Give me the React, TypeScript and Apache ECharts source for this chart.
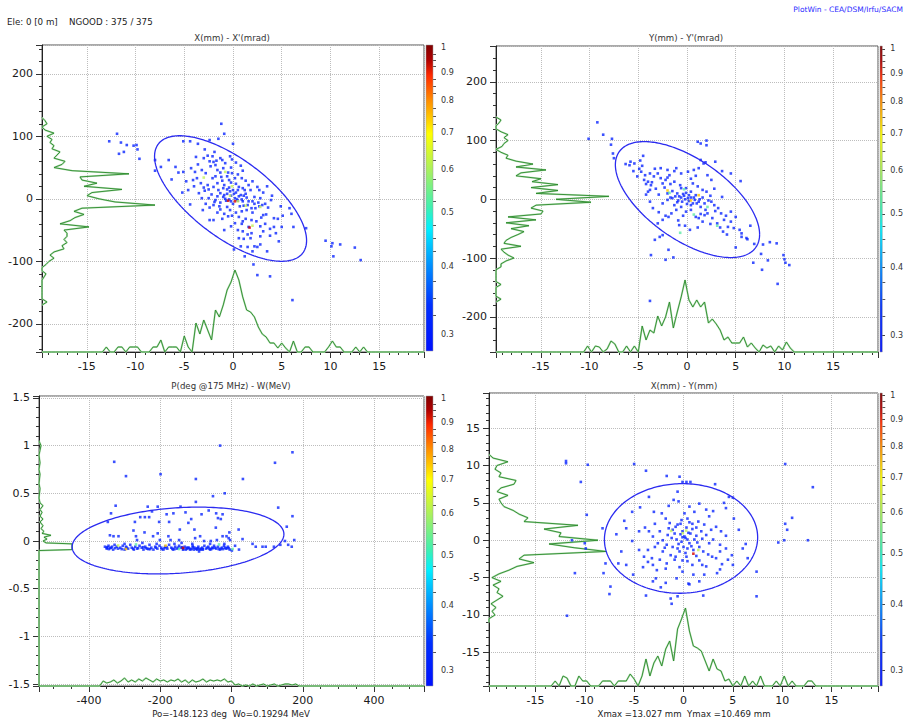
import React, { useEffect, useRef } from "react";
import * as echarts from "echarts";

const FONT = "'DejaVu Sans', Verdana, sans-serif";

// ---------------- Panel 1 : X(mm) - X'(mrad) ----------------
const p1Points: number[][] = [
  [-1.2,120],[-0.9,104],[-11.9,104],[-12.7,92],[-11.5,90],[-10.9,86],[-10.2,85],[-9.9,86],[-9.8,79],[-11.2,75],[-11.7,72],[-9.6,64],
  [9.5,-67],[10.2,-71],[10.1,-76],[10.3,-92],[11.0,-73],[12.5,-78],[13.1,-98],[6.1,-162],[2.5,-122],[3.8,-124],[2.1,-105],
  [-6.6,62],[-8.0,62],[-8.0,45],[-7.4,51],[-5.1,92],[-4.4,92],[-3.6,88],[-2.4,94],[-1.5,96],[0.0,88],
  [-1.9,75],[-2.9,79],[-2.1,68],[-1.3,65],[-1.1,62],[-1.7,61],[-0.3,68],[-2.6,69],[-3.0,65],[-3.8,67],[-2.0,59],[-0.8,57],[0.3,58],
  [-5.9,51],[-5.6,42],[-5.1,43],[-3.9,43],[-3.2,46],[-2.8,41],[-2.3,52],[-1.8,54],[-1.6,46],[-1.3,42],[-1.0,49],[-0.5,42],[-0.1,41],[0.5,39],[0.8,53],[0.9,33],[1.3,29],
  [-1.8,36],[-2.1,33],[-3.7,33],[-4.1,30],[-4.8,28],[-6.3,31],
  [-1.6,25],[-1.0,17],[-0.6,15],[-0.4,18],[0.0,14],[0.5,14],[1.0,17],[1.2,14],[1.8,14],[2.5,19],[2.7,14],[-2.5,15],[-2.0,19],[-1.5,14],[-2.9,13],[-3.3,25],[-3.5,9],[-1.3,9],[-0.9,6],[-0.2,5],[0.1,8],[0.6,4],[1.1,5],[2.2,3],[2.8,1],[3.1,10],[1.6,22],[-1.1,29],
  [-3.2,1],[-2.5,1],[-1.8,-2],[-1.3,-6],[-0.7,-3],[-0.2,-4],[0.5,-3],[1.0,-4],[1.5,-10],[2.2,-8],[2.7,-12],[3.0,-10],[3.9,-2],[-4.4,-9],[-2.8,-8],[-2.0,-10],[-1.4,-12],[-0.6,-13],[0.0,-8],[0.7,-12],[1.1,-11],[1.9,-15],[2.3,-15],[4.9,-12],[5.8,-15],[-1.3,-17],[-3.1,-18],
  [-2.4,-34],[-2.0,-34],[-1.1,-32],[-0.5,-28],[-0.1,-27],[0.6,-29],[1.3,-32],[1.9,-34],[2.4,-36],[3.1,-26],[3.4,-25],[4.2,-31],[4.6,-32],[5.1,-27],[6.0,-24],
  [-0.2,-44],[0.2,-39],[0.9,-40],[1.6,-45],[2.8,-44],[4.2,-45],[5.0,-45],[6.2,-45],[7.5,-47],
  [0.6,-63],[1.1,-64],[1.5,-57],[1.8,-63],[2.8,-60],[3.1,-52],[3.8,-59],[4.7,-68],[0.8,-76],[1.5,-77],[2.2,-76],[2.5,-77],[2.8,-73],[0.1,-81],[1.2,-92],[2.0,-84],[3.5,-84],
  [-0.4,30],[0.3,24],[-0.8,0],[0.4,-1],[1.4,2],[-0.3,-18],[0.9,-20],[2.0,-22],[-1.6,-22],[3.3,-40],[-0.9,-50],[1.0,-52],
  [-0.6,8],[-0.3,12],[0.3,10],[0.8,6],[-1.0,3],[-0.4,-1],[0.2,1],[0.9,-1],[1.6,-4],[-1.6,4],[-2.2,7],[-0.9,22],[-0.2,26],[0.6,19],[1.3,8],[-2.6,22],[-3.0,18],[-1.2,35],[0.2,33],[-0.6,36],
  [2.0,-4],[2.6,-6],[3.3,-8],[3.6,-14],[1.4,-18],[0.3,-22],[-0.9,-24],[1.0,-36],[2.9,-30],[-3.6,55],[-4.3,49],[-2.4,60],[-0.2,50],[-1.9,-5],[-2.4,-14],[0.5,-50],[3.8,-48],[4.4,-55],[1.9,-55],
  [-4.0,20],[-4.6,14],[-5.2,10],[-0.1,63],[1.0,45],[2.0,28],[3.5,20],[4.0,5]
];
const p1Dense: number[][] = [
  [-0.8,43,0.65],[-3.0,34,0.65],[-0.1,20,0.65],[0.5,-4,0.65],[1.3,-11,0.65],[2.8,-13,0.65],[2.0,-43,0.65],[-0.3,5,0.65],
  [-0.5,-3,0.95],[0.2,-4,0.95],[1.7,-46,0.95]
];
const p1Ellipse = { cx: -0.25, cy: 0.5, halfX: 7.8, halfY: 100.4, corr: -0.67 };
const p1HistXStart = -19.4, p1HistXStep = 0.4;
const p1HistX = [
  0,0,0,0,0,0,0,0,0,0,0,0,0,0,0,0,
  5,0,0,5,5,0,5,5,5,0,0,0,5,5,12,0,5,5,5,0,16,5,0,29,18,32,22,12,42,35,47,62,70,82,72,55,42,40,35,25,18,15,9,9,4,9,4,0,11,0,0,5,5,0,0,0,0,5,11,5,5,0,0,0,5,0,5,
  0,0,0,0,0,0,0,0,0,0,0,0,0,0,0
];
const p1HistYStart = -170, p1HistYStep = 5;
const p1HistY = [0,5,0,0,0,0,0,0,0,2,4,0,0,4,7,12,8,12,22,20,25,22,25,25,22,47,18,28,33,42,32,40,113,73,57,45,50,80,42,55,40,38,87,30,12,20,23,12,15,18,10,12,8,10,5,12,3,0,5,3,0];

// ---------------- Panel 2 : Y(mm) - Y'(mrad) ----------------
const p2Points: number[][] = [
  [-9.2,131],[-8.6,110],[-10.1,103],[-7.7,103],[-7.8,93],[-7.6,78],[-7.5,70],[1.1,98],[1.4,95],[2.0,100],[2.0,92],
  [9.9,-95],[10.0,-102],[10.1,-108],[10.5,-112],[9.3,-144],[-3.8,-173],[8.5,-73],[9.2,-75],[7.6,-93],[6.8,-108],[7.7,-120],[8.3,-104],[7.8,-77],[6.9,-76],[5.0,-82],[6.2,-68],[5.6,-64],
  [-2.2,-103],[-1.4,-99],[-1.9,-86],[-3.7,-95],[-3.3,-69],[-2.8,-64],[-2.5,-61],
  [5.5,31],[4.5,44],[3.6,48],[2.9,64],[1.7,61],[1.4,67],[1.9,63],
  [-6.3,60],[-5.9,58],[-5.4,61],[-4.8,66],[-4.5,74],[-4.6,57],
  [-4.7,47],[-4.3,41],[-4.0,30],[-3.7,24],[-4.2,26],[-3.4,39],[-3.0,44],[-2.7,36],[-2.5,27],[-2.2,33],[-1.8,41],[-1.7,26],[-1.3,30],[-1.5,14],[-1.0,10],[-0.8,5],[-0.6,3],[-0.3,6],[-0.2,0],[0.1,2],[0.4,3],[0.8,-1],[1.0,-7],[1.3,0],[1.6,3],[2.0,13],[2.4,6],[2.5,-4],[2.8,-10],[3.2,-15],
  [-0.6,-13],[-1.1,-18],[-1.6,-24],[-2.2,-28],[-2.5,-35],[-3.0,-41],[-3.5,-15],[-3.8,-4],[-2.5,-7],[-2.0,-1],[-1.3,-10],[-0.1,-21],[0.4,-18],[0.9,-30],[1.4,-25],[2.1,-24],[2.6,-32],[3.1,-41],[3.5,-24],[3.8,-35],[4.5,-21],[4.5,-38],[4.8,-49],[5.4,-52],[5.6,-58],[6.1,-66],[4.2,-47],[3.7,-55],[-0.8,-44],[-0.2,-45],[1.1,-48],[1.6,-38],
  [-4.4,33],[-3.8,44],[-5.1,39],[-4.0,13],[-2.0,10],[0.6,27],[1.1,22],[1.6,16],[0.7,50],[1.2,53],[0.1,47],[-0.6,44],[2.1,41],[2.5,33],[-1.1,53],[-2.0,50],[-2.7,53],[-5.8,64],[-0.1,19],[0.4,13],[-0.6,19],[0.9,7],[1.4,-13],[1.9,-18],[0.0,-8],[0.4,-10],[-0.5,-4],[-1.7,3],
  [-3.2,18],[-2.9,8],[0.2,-3],[-0.4,9],[1.2,-4],[0.7,3],[-1.0,-5],[2.2,-2],
  [-1.2,5],[-0.9,-2],[0.2,7],[0.6,-7],[-0.1,11],[-1.5,2],[1.8,-7],[2.9,-20],[-0.7,24],[-2.3,20],[-3.6,29],[-4.9,52],[-3.3,52],[-2.0,37],[0.4,35],[1.2,-32],[2.4,-42],[3.4,-48],[4.0,-28],
  [-1.9,-30],[-0.9,-36],[0.3,-52],[-2.9,-22],[-4.2,8],[-3.8,16],[-0.4,-28],[1.8,-27],[5.0,-30],[4.1,-60],[6.5,-45],[2.8,18],[3.6,4],[-5.5,48],[0.9,40],[-1.3,48]
];
const p2Dense: number[][] = [
  [-2.0,15,0.8],[0.4,-2,0.8],[1.2,7,0.8],
  [-1.8,11,0.55],[-0.3,17,0.55],[0.7,-26,0.55],[3.1,-45,0.55],[-0.7,-57,0.55],[2.1,-13,0.55]
];
const p2Ellipse = { cx: 0.05, cy: -0.5, halfX: 7.4, halfY: 98.7, corr: -0.6 };
const p2HistXStart = -19.4, p2HistXStep = 0.4;
const p2HistX = [
  0,0,0,0,0,0,0,0,0,0,0,0,0,0,0,0,0,0,0,0,0,0,0,
  6,0,6,5,0,3,11,8,0,0,6,0,6,0,26,12,22,19,36,26,35,50,24,40,55,72,52,45,52,45,50,29,33,28,22,12,15,9,9,9,15,5,9,4,0,7,4,6,0,6,2,10,4,
  0,0,0,0,0,0,0,0,0,0,0,0,0,0,0,0,0,0,0,0,0,0
];
const p2HistYStart = -175, p2HistYStep = 5;
const p2HistY = [0,5,0,0,0,0,5,0,0,0,0,0,5,5,10,18,12,8,5,25,8,10,15,22,28,15,33,10,40,12,45,47,35,40,95,60,113,40,62,35,62,36,45,20,25,50,20,37,20,10,12,5,0,6,8,12,8,12,5,0,0,3,5,0];

// ---------------- Panel 3 : P(deg @175 MHz) - W(MeV) ----------------
const p3Points: number[][] = [
  [-329,0.83],[-296,0.68],[-199,0.7],[-100,0.65],[-32,1.0],[32,0.65],[122,0.82],[171,0.93],[-52,0.47],[-19,0.5],[-325,0.37],[-338,0.29],[-235,0.36],[-207,0.36],[-143,0.36],[-100,0.41],[131,0.35],[171,0.26],[176,0.01],[155,0.15],
  [-347,0.2],[-271,0.2],[-256,0.25],[-243,0.25],[-231,0.25],[-223,0.31],[-182,0.28],[-163,0.29],[-129,0.3],[-113,0.23],[-121,0.19],[-84,0.28],[-64,0.32],[-43,0.29],[-38,0.24],[-30,0.23],[-25,0.28],[-203,0.2],[-175,0.2],[-275,0.11],[-244,0.09],[-207,0.08],[-145,0.12],[-104,0.12],[-44,0.14],[20,0.12],[-6,0.09],
  [-341,0.06],[-331,0.05],[-317,0.05],[-268,0.05],[-265,0.01],[-220,0.05],[-201,0.01],[-177,0.05],[-171,0.01],[-147,0.01],[-102,0.03],[-88,0.05],[-77,0],[-58,0],[-41,0.01],[-25,0.05],[-14,0.05],[-8,0.03],[-4,0.01],[31,0.02],[59,-0.03],[68,-0.06],[87,-0.06],[96,-0.06],[119,-0.06],[137,-0.04],[150,0],[159,-0.04],[169,-0.06],[10,-0.05],[21,-0.09],[1,-0.1],[-81,-0.09],[-91,-0.11],
  [-355,-0.06],[-350,-0.08],[-345,-0.05],[-338,-0.07],[-332,-0.09],[-328,-0.04],[-322,-0.06],[-318,-0.08],[-312,-0.07],[-305,-0.05],[-300,-0.09],[-296,-0.06],[-290,-0.08],[-284,-0.04],[-280,-0.07],[-274,-0.09],[-270,-0.06],[-265,-0.08],[-258,-0.05],[-252,-0.07],[-247,-0.09],[-242,-0.06],[-236,-0.08],[-230,-0.04],[-225,-0.07],[-219,-0.09],[-214,-0.06],[-208,-0.08],[-202,-0.05],[-197,-0.07],[-191,-0.09],[-186,-0.06],[-180,-0.08],[-175,-0.04],[-169,-0.07],[-164,-0.09],[-158,-0.06],[-153,-0.08],[-147,-0.05],[-142,-0.07],[-136,-0.09],[-131,-0.06],[-126,-0.08],[-120,-0.07],[-115,-0.09],[-109,-0.05],[-104,-0.07],[-98,-0.08],[-93,-0.06],[-87,-0.09],[-82,-0.07],[-76,-0.05],[-71,-0.08],[-65,-0.06],[-60,-0.09],[-54,-0.07],[-49,-0.05],[-43,-0.08],[-38,-0.06],[-32,-0.09],[-27,-0.07],[-21,-0.05],[-16,-0.08],[-10,-0.06],[-5,-0.09],
  [-135,-0.085],[-128,-0.09],[-122,-0.075],[-117,-0.085],[-112,-0.08],[-106,-0.09],[-100,-0.085],[-95,-0.075],[-90,-0.085],[-85,-0.08],[-348,-0.065],[-340,-0.075],[-335,-0.06],
  [-62,-0.08],[-57,-0.085],[-52,-0.075],[-30,-0.08],[-24,-0.085],[-12,-0.075],[-240,-0.075],[-233,-0.085],[-188,-0.075],[-160,-0.085],
  [-350,-0.07],[-344,-0.085],[-326,-0.075],[-308,-0.085],[-294,-0.07],[-276,-0.08],[-262,-0.075],[-248,-0.065],[-228,-0.085],[-212,-0.07],[-196,-0.085],[-182,-0.065],[-166,-0.08],[-150,-0.07],[-138,-0.065],[-124,-0.07],[-108,-0.065],[-96,-0.09],[-80,-0.085],[-68,-0.07],[-46,-0.07],[-36,-0.085],[-18,-0.07],[-8,-0.075],
  [-210,-0.03],[-160,-0.03],[-110,-0.03],[-60,-0.03],[-20,-0.03],[-300,-0.03],[-250,-0.02],[-140,-0.02]
];
const p3Dense: number[][] = [
  [-147,-0.084,0.55],[-35,-0.036,0.55],[3,-0.084,0.55],[-268,-0.036,0.55],[-296,-0.084,0.8],[-185,-0.049,0.8],[-318,-0.047,0.6],[-136,-0.073,0.95]
];
const p3Ellipse = { cx: -150, cy: 0.005, halfX: 297, halfY: 0.35, corr: 0.19 };
const p3HistXStart = -370, p3HistXStep = 10;
const p3HistX = [0,5,3,4,6,3,5,8,4,6,4,7,5,8,6,4,7,5,6,4,6,5,7,4,6,3,6,4,5,7,4,6,5,6,5,7,4,5,1,2,0,1,0,2,0,1,2,0,1,2,0,1,2,2,1,2,0];
const p3HistYPairs: number[][] = [
  [-1.52,0],[-0.1,0],[-0.09,33],[-0.03,33],[-0.02,7],[0,4],[0.02,8],[0.04,5],[0.06,12],[0.08,3],[0.1,5],[0.13,2],[0.16,4],[0.2,1],[0.23,4],[0.26,1],[0.3,3],[0.33,1],[0.37,4],[0.4,1],[0.45,0],[0.55,1],[0.6,0],[0.7,1],[0.75,0],[0.82,1],[0.9,0],[0.95,1],[1.0,2],[1.05,0]
];

// ---------------- Panel 4 : X(mm) - Y(mm) ----------------
const p4Points: number[][] = [
  [-11.9,10.6],[-11.9,10.3],[-9.7,10.1],[-5.0,10.2],[-3.8,9.3],[-1.7,8.6],[-0.4,8.5],[-0.1,7.8],[0.3,7.8],[0.7,7.8],[3.2,7.5],[-10.4,7.8],[10.3,10.2],[13.1,7.1],[-9.8,3.4],[11.0,3.0],[10.3,2.2],[10.5,1.4],[10.2,0.0],[9.6,-0.3],[12.6,0.0],[7.4,-4.2],[7.4,-7.5],[-11.0,-4.4],[-11.8,-10.1],[-7.4,-6.2],[-7.5,-7.2],[-8.1,-4.4],[-7.9,-3.1],[-3.8,-7.4],[-1.3,-7.8],[-1.2,-8.5],[-0.6,-7.5],[2.0,-7.4],[1.6,-5.5],[-2.3,-6.3],[0.5,-5.8],[0.6,-5.9],
  [5.0,5.7],[4.6,5.8],[4.1,5.0],[4.3,4.3],[5.1,2.9],[6.0,-1.1],[6.3,-0.5],[-9.9,-1.1],[-10.0,-0.4],[-11.3,0.0],[-8.2,1.6],[-5.2,-0.1],[-5.1,-4.6],[-6.6,-3.1],[-5.8,-3.3],[-3.5,5.8],[-4.4,4.4],[-5.2,3.8],[-6.0,2.6],[-5.8,1.6],[-0.6,6.5],[-0.5,5.2],[-1.5,4.6],[-2.2,3.6],[-2.9,2.2],[-3.9,1.7],[-4.5,-1.3],[-3.6,-1.3],[-3.2,-2.4],[-3.1,-3.3],[-2.7,-4.0],[-1.8,-3.8],[-2.8,-5.1],
  [-0.9,-2.6],[-0.4,-3.6],[-0.1,-2.7],[0.3,-2.2],[0.9,-3.3],[1.6,-2.7],[2.3,-3.5],[2.9,-2.2],[3.7,-1.5],[3.9,-3.2],[4.5,-2.6],[4.9,-2.0],[4.3,0.6],[3.8,1.2],[3.0,0.1],[2.3,0.7],[1.8,1.2],[1.3,1.7],[0.9,2.2],[0.4,2.9],[0.1,3.6],[-0.2,2.7],[-0.6,2.1],[-1.1,1.4],[-1.6,0.7],[-2.1,0.0],[-2.6,-0.4],[-3.1,0.5],[-3.5,1.2],
  [-1.7,-0.6],[-1.1,-0.9],[-0.7,0.1],[-0.2,-0.2],[0.1,0.5],[0.6,-0.4],[1.1,0.1],[1.6,-0.9],[2.0,-1.5],[1.0,-1.3],[0.2,-1.7],[-0.4,-1.5],[-1.3,-2.0],[-2.1,-1.5],[-0.1,1.2],[0.3,1.7],[0.7,0.9],[-0.9,0.9],[-1.4,2.3],[1.5,2.5],[2.1,2.1],[2.6,3.2],[3.3,1.8],[3.7,-0.6],[4.3,-1.1],[3.3,-2.4],[2.3,4.1],[1.1,3.8],[0.6,4.5],[-2.4,-2.6],[-4.0,-2.2],[-4.5,1.2],[1.0,-4.6],[2.1,-4.6],[-0.1,-4.2],[-0.7,-5.1],[-1.8,-5.7],[-3.1,-5.5],[3.7,-3.9],[5.0,-3.3],
  [0.2,0.3],[-0.3,0.8],[0.5,1.0],[-0.5,-0.5],[0.8,-0.8],[1.3,0.6],[-1.2,0.3],[0.0,-0.9],[0.4,-1.1],[-0.8,1.8],[1.9,0.2],[-1.9,-1.0],
  [0.4,0.1],[-0.1,0.4],[-0.6,-1.1],[1.4,-0.3],[-1.5,1.6],[0.9,1.5],[-0.3,2.2],[0.6,2.4],[-1.8,2.9],[2.6,-0.4],[2.8,1.4],[-2.4,1.2],[-2.9,-0.9],[-0.8,-2.2],[0.4,-2.8],[1.3,-2.1],[2.5,-1.9],[1.9,-3.3],[-1.7,-3.1],[-3.6,-2.9],
  [3.0,3.9],[-3.0,3.8],[-1.0,5.4],[1.6,4.9],[-4.1,-3.6],[3.4,-4.4],[-6.3,-1.5],[5.6,1.4],[-6.8,0.8],[6.5,-2.4]
];
const p4Dense: number[][] = [[-1.25,1.25,0.65],[-0.07,0.94,0.65],[0.27,1.29,0.65],[1.5,-1.3,0.65],[1.0,-1.8,0.95]];
const p4Ellipse = { cx: -0.25, cy: 0.24, halfX: 7.76, halfY: 7.33, corr: 0.02 };
const p4HistXStart = -19.4, p4HistXStep = 0.4;
const p4HistX = [
  0,0,0,0,0,0,0,0,0,0,0,0,0,0,0,0,
  5,0,10,8,0,0,10,5,5,0,0,0,5,5,5,0,5,5,5,12,7,0,10,27,10,23,30,20,37,45,25,57,67,78,55,40,38,35,25,15,27,17,15,5,7,0,5,0,10,0,5,0,10,0,0,0,5,0,10,0,5,0,0,0,5,5,
  0,0,0,0,0,0,0,0,0,0,0,0,0,0,0,0
];
const p4HistYStart = -11, p4HistYStep = 0.5;
const p4HistY = [0,0,6,3,7,2,8,14,8,10,4,12,3,10,20,28,45,30,35,117,85,60,109,70,72,55,89,35,39,30,24,15,12,10,19,8,12,25,27,10,12,6,8,19,4,0];

// ---------------- colour bar ----------------
const colorMajorTicks = [1, 0.9, 0.8, 0.7, 0.6, 0.5, 0.4, 0.3];
const colorMinorTicks = [0.975,0.95,0.925,0.875,0.85,0.825,0.775,0.75,0.725,0.675,0.65,0.625,0.575,0.55,0.525,0.475,0.45,0.425,0.375,0.35,0.325];
const colorMin = 0.28, colorMax = 1.012;

// ---------------- texts ----------------
const titles = ["X(mm) - X'(mrad)", "Y(mm) - Y'(mrad)", "P(deg @175 MHz) - W(MeV)", "X(mm) - Y(mm)"];
const footers = ["", "", "Po=-148.123 deg  Wo=0.19294 MeV", "Xmax =13.027 mm  Ymax =10.469 mm"];

function binsToPairs(start: number, step: number, counts: number[]) {
  return counts.map((c, i) => [+(start + i * step).toFixed(4), c]);
}

function ellipseOutline(e: { cx: number; cy: number; halfX: number; halfY: number; corr: number }) {
  const pts: number[][] = [];
  const s = Math.sqrt(1 - e.corr * e.corr);
  for (let k = 0; k <= 240; k++) {
    const t = (k / 240) * 2 * Math.PI;
    pts.push([e.cx + e.halfX * Math.cos(t), e.cy + e.halfY * (e.corr * Math.cos(t) - s * Math.sin(t))]);
  }
  return pts;
}

function levelColor(l: number) {
  if (l >= 0.9) return "#d40000";
  if (l >= 0.75) return "#ffc400";
  if (l >= 0.6) return "#c4f25a";
  return "#5ee8a8";
}

const PANELS = [
  {
    grid: { left: 42, top: 45, width: 382, height: 307 }, bar: { left: 426, top: 45, width: 7, height: 306 },
    x: [-19.6, 19.6], xIv: 5, xMinor: 5, y: [-245, 246], yIv: 100, yMinor: 5,
    points: p1Points, dense: p1Dense, ellipse: p1Ellipse,
    histX: binsToPairs(p1HistXStart, p1HistXStep, p1HistX), histY: binsToPairs(p1HistYStart, p1HistYStep, p1HistY),
    titleX: 232, titleY: 38,
  },
  {
    grid: { left: 496, top: 46, width: 382, height: 306 }, bar: { left: 880, top: 46, width: 7, height: 306 },
    x: [-19.6, 19.6], xIv: 5, xMinor: 5, y: [-260, 261], yIv: 100, yMinor: 5,
    points: p2Points, dense: p2Dense, ellipse: p2Ellipse,
    histX: binsToPairs(p2HistXStart, p2HistXStep, p2HistX), histY: binsToPairs(p2HistYStart, p2HistYStep, p2HistY),
    titleX: 686, titleY: 38,
  },
  {
    grid: { left: 39, top: 396, width: 385, height: 290 }, bar: { left: 426, top: 396, width: 7, height: 290 },
    x: [-540, 540], xIv: 200, xMinor: 4, y: [-1.52, 1.52], yIv: 0.5, yMinor: 5,
    points: p3Points, dense: p3Dense, ellipse: p3Ellipse,
    histX: binsToPairs(p3HistXStart, p3HistXStep, p3HistX), histY: p3HistYPairs,
    titleX: 231, titleY: 386,
  },
  {
    grid: { left: 489, top: 393, width: 389, height: 293 }, bar: { left: 880, top: 393, width: 7, height: 293 },
    x: [-19.7, 19.7], xIv: 5, xMinor: 5, y: [-19.5, 19.7], yIv: 5, yMinor: 5,
    points: p4Points, dense: p4Dense, ellipse: p4Ellipse,
    histX: binsToPairs(p4HistXStart, p4HistXStep, p4HistX), histY: binsToPairs(p4HistYStart, p4HistYStep, p4HistY),
    titleX: 684, titleY: 386,
  },
];

function txt(text: string, x: number, y: number, size: number, align = "left", color = "#222") {
  return {
    type: "text", x, y, silent: true, z: 10,
    style: { text, fill: color, font: `${size}px ${FONT}`, textAlign: align, textVerticalAlign: "middle", align, verticalAlign: "middle" },
  };
}

function buildOption() {
  const grids: any[] = [], xAxes: any[] = [], yAxes: any[] = [], series: any[] = [];
  const axisCommon = (min: number, max: number, iv: number, minor: number) => ({
    type: "value", min, max, minInterval: iv, maxInterval: iv, splitNumber: 8,
    axisLine: { show: true, onZero: false, lineStyle: { color: "#222", width: 1 } },
    axisTick: { show: true, inside: false, length: 6, lineStyle: { color: "#333" } },
    minorTick: { show: true, splitNumber: minor, length: 3, lineStyle: { color: "#333" } },
    axisLabel: { fontFamily: FONT, fontSize: 11, color: "#1a1a1a", margin: 9, showMinLabel: false, showMaxLabel: false },
    splitLine: { show: true, lineStyle: { color: "#bdbdbd", type: "dotted", width: 1 } },
    minorSplitLine: { show: false },
  });
  const gradient = new echarts.graphic.LinearGradient(0, 0, 0, 1, [
    { offset: 0, color: "#800000" },
    { offset: 0.05, color: "#b00000" },
    { offset: 0.1, color: "#ff2a00" },
    { offset: 0.18, color: "#ff8c00" },
    { offset: 0.29, color: "#ffff00" },
    { offset: 0.41, color: "#a8f060" },
    { offset: 0.53, color: "#40f0b0" },
    { offset: 0.6, color: "#00f0ff" },
    { offset: 0.72, color: "#0090ff" },
    { offset: 0.85, color: "#0030ff" },
    { offset: 1, color: "#0010ff" },
  ]);
  const logMin = Math.log10(colorMin), logMax = Math.log10(colorMax);

  PANELS.forEach((p) => {
    const gMain = grids.length;
    grids.push({ ...p.grid, show: true, borderColor: "#555", borderWidth: 1, backgroundColor: "#fff" });
    const gBar = grids.length;
    grids.push({ ...p.bar, show: false });

    const xMain = xAxes.length;
    xAxes.push({ gridIndex: gMain, position: "bottom", ...axisCommon(p.x[0], p.x[1], p.xIv, p.xMinor) });
    const xHist = xAxes.length;
    xAxes.push({ gridIndex: gMain, type: "value", min: 0, max: p.grid.width, show: false });
    const xBar = xAxes.length;
    xAxes.push({ gridIndex: gBar, type: "value", min: 0, max: 1, show: false });

    const yMain = yAxes.length;
    yAxes.push({ gridIndex: gMain, position: "left", ...axisCommon(p.y[0], p.y[1], p.yIv, p.yMinor) });
    const yHist = yAxes.length;
    yAxes.push({ gridIndex: gMain, type: "value", min: 0, max: p.grid.height, show: false });
    const yBar = yAxes.length;
    yAxes.push({
      gridIndex: gBar, type: "value", min: logMin, max: logMax, position: "right",
      axisLine: { show: false },
      axisTick: { show: true, length: 5, customValues: colorMajorTicks.map((v) => Math.log10(v)), lineStyle: { color: "#444" } },
      axisLabel: {
        show: true, margin: 8, fontFamily: FONT, fontSize: 8, color: "#333",
        customValues: colorMajorTicks.map((v) => Math.log10(v)),
        formatter: (v: number) => String(Math.round(Math.pow(10, v) * 10) / 10),
      },
      splitLine: { show: false },
    });
    yAxes.push({
      gridIndex: gBar, type: "value", min: logMin, max: logMax, position: "right",
      axisLine: { show: false },
      axisTick: { show: true, length: 3, customValues: colorMinorTicks.map((v) => Math.log10(v)), lineStyle: { color: "#555" } },
      axisLabel: { show: false },
      splitLine: { show: false },
    });

    const histBottom = [[p.x[0], 0], ...p.histX, [p.x[1], 0]];
    const histLeft = p.histY.map((d) => [d[1], d[0]]);
    const histStyle = (data: any[], xi: number, yi: number) => [
      { type: "line", xAxisIndex: xi, yAxisIndex: yi, data, symbol: "none", showSymbol: false, clip: false, silent: true, z: 2,
        lineStyle: { color: "#b9e0b9", width: 1.8 } },
      { type: "line", xAxisIndex: xi, yAxisIndex: yi, data, symbol: "none", showSymbol: false, clip: false, silent: true, z: 3,
        lineStyle: { color: "#2a8a2a", width: 0.9 } },
    ];
    series.push(...histStyle(histBottom, xMain, yHist));
    series.push(...histStyle(histLeft, xHist, yMain));

    series.push({
      type: "scatter", xAxisIndex: xMain, yAxisIndex: yMain, data: p.points, symbol: "rect", symbolSize: 2.6,
      itemStyle: { color: "#0a26ff" }, silent: true, z: 4,
    });
    series.push({
      type: "scatter", xAxisIndex: xMain, yAxisIndex: yMain, symbol: "rect", symbolSize: 2.6, silent: true, z: 5,
      data: p.dense.map((d) => ({ value: [d[0], d[1]], itemStyle: { color: levelColor(d[2]) } })),
    });
    series.push({
      type: "line", xAxisIndex: xMain, yAxisIndex: yMain, data: ellipseOutline(p.ellipse), symbol: "none", showSymbol: false,
      silent: true, z: 6, lineStyle: { color: "#2b2bf0", width: 1.3 },
    });
    series.push({
      type: "custom", coordinateSystem: "cartesian2d", xAxisIndex: xBar, yAxisIndex: yBar, data: [[0.5, -0.2]], silent: true, clip: false,
      renderItem: (params: any) => {
        const cs = params.coordSys;
        return { type: "rect", shape: { x: cs.x, y: cs.y, width: cs.width, height: cs.height }, style: { fill: gradient, stroke: "#999", lineWidth: 0.5 } };
      },
    });
  });

  const graphic: any[] = [
    txt("PlotWin - CEA/DSM/Irfu/SACM", 903, 9, 7.5, "right", "#2b2bff"),
    txt("Ele: 0 [0 m]", 7, 22, 8.7),
    txt("NGOOD : 375 / 375", 69, 22, 8.7),
  ];
  PANELS.forEach((p, i) => {
    graphic.push(txt(titles[i], p.titleX, p.titleY, 8.6, "center", "#333"));
    if (footers[i]) graphic.push(txt(footers[i], p.titleX, 714, 8.6, "center", "#222"));
  });

  return { animation: false, backgroundColor: "#fff", grid: grids, xAxis: xAxes, yAxis: yAxes, series, graphic };
}

export default function App() {
  const ref = useRef<HTMLDivElement>(null);
  useEffect(() => {
    const chart = echarts.init(ref.current!, null, { renderer: "svg" });
    chart.setOption(buildOption() as any);
    return () => chart.dispose();
  }, []);
  return <div ref={ref} style={{ position: "absolute", left: 0, top: 0, width: 906, height: 724, background: "#fff" }} />;
}
